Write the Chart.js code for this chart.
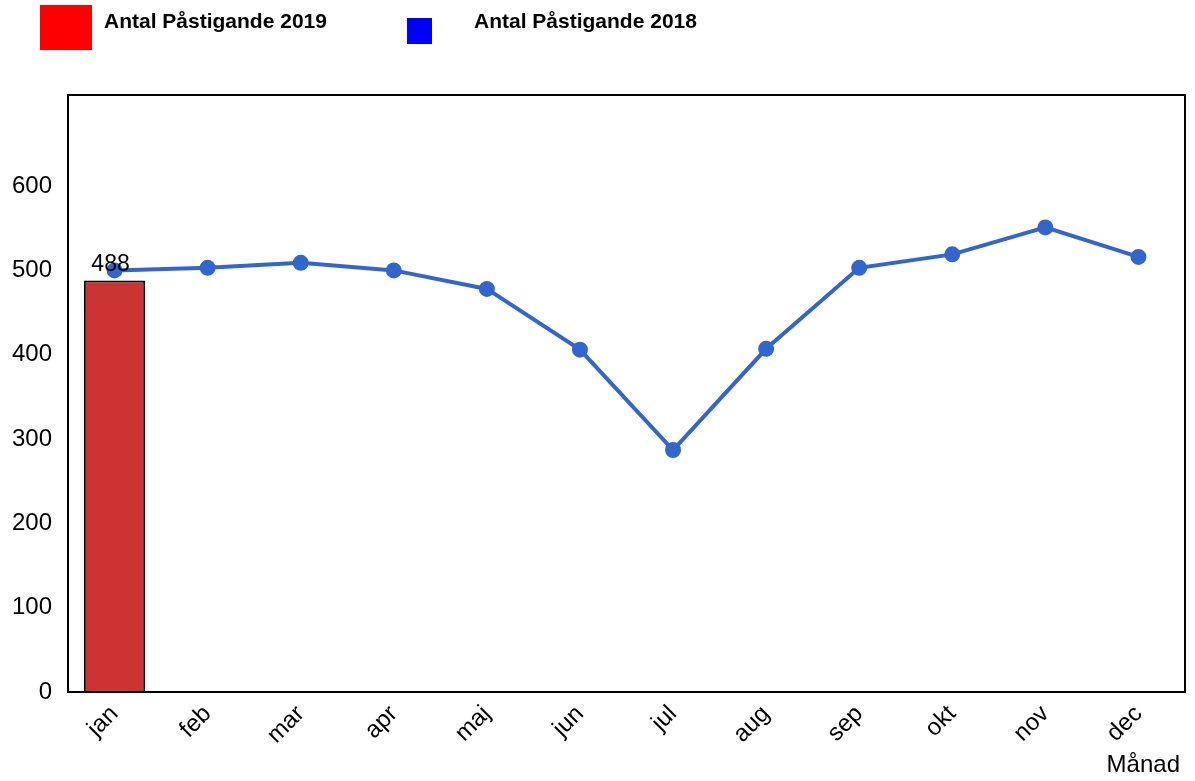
<!DOCTYPE html>
<html lang="sv">
<head>
<meta charset="UTF-8">
<title>Antal Påstigande</title>
<style>
  body { margin: 0; background: #fff; font-family: Arial, "Liberation Sans", sans-serif; }
  .chartBox { position: relative; width: 1195px; height: 781px; }
  .legend { position: absolute; font-weight: bold; font-size: 21px; }
  .sw { position: absolute; }
</style>
</head>
<body>
<div class="chartBox">
  <div class="sw" style="left:40px;top:5px;width:52px;height:45px;background:#ff0000"></div>
  <div class="legend" style="left:104px;top:9px">Antal Påstigande 2019</div>
  <div class="sw" style="left:407px;top:18px;width:25px;height:26px;background:#0000ff"></div>
  <div class="legend" style="left:474px;top:9px">Antal Påstigande 2018</div>
  <canvas id="myChart" width="1195" height="781"></canvas>
</div>
<script src="https://cdn.jsdelivr.net/npm/chart.js"></script>
<script>
const months = ['jan', 'feb', 'mar', 'apr', 'maj', 'jun', 'jul', 'aug', 'sep', 'okt', 'nov', 'dec'];
const values2019 = [488];
const values2018 = [500, 503, 509, 500, 478, 406, 287, 407, 503, 519, 551, 516];
const yTicks = [0, 100, 200, 300, 400, 500, 600];

const extras = {
  id: 'extras',
  afterDraw(chart) {
    const { ctx, chartArea: a } = chart;
    ctx.save();
    ctx.strokeStyle = '#000';
    ctx.lineWidth = 2;
    ctx.strokeRect(a.left, a.top, a.right - a.left, a.bottom - a.top);
    const bar = chart.getDatasetMeta(0).data[0];
    ctx.fillStyle = '#000';
    ctx.font = '23px Arial, "Liberation Sans"';
    ctx.textAlign = 'center';
    ctx.textBaseline = 'bottom';
    ctx.fillText(String(values2019[0]), bar.x - 4, bar.y - 4);
    ctx.font = '24px Arial, "Liberation Sans"';
    ctx.textAlign = 'right';
    ctx.fillText('Månad', 1180, 777);
    ctx.restore();
  }
};

new Chart(document.getElementById('myChart'), {
  data: {
    labels: months,
    datasets: [{
      type: 'bar',
      label: 'Antal Påstigande 2019',
      data: values2019,
      backgroundColor: '#cc3333',
      borderColor: '#000',
      borderWidth: 2,
      barPercentage: 0.66,
      categoryPercentage: 1,
      order: 2
    }, {
      type: 'line',
      label: 'Antal Påstigande 2018',
      data: values2018,
      borderColor: '#3366cc',
      backgroundColor: '#3366cc',
      borderWidth: 4,
      pointRadius: 6,
      tension: 0,
      order: 1
    }]
  },
  options: {
    responsive: false,
    animation: false,
    layout: { padding: { top: 95, right: 8 } },
    plugins: { legend: { display: false }, tooltip: { enabled: false } },
    scales: {
      x: {
        offset: true,
        grid: { display: false },
        border: { display: false },
        ticks: { color: '#000', font: { size: 24, family: 'Arial, "Liberation Sans"' }, maxRotation: 45, minRotation: 45, padding: 0 },
        afterFit: s => { s.height = 89; }
      },
      y: {
        min: 0, max: 708,
        grid: { display: false },
        border: { display: false },
        afterBuildTicks: s => { s.ticks = yTicks.map(v => ({ value: v })); },
        ticks: { color: '#000', font: { size: 24, family: 'Arial, "Liberation Sans"' }, padding: 8 },
        afterFit: s => { s.width = 68; }
      }
    }
  },
  plugins: [extras]
});
</script>
</body>
</html>
